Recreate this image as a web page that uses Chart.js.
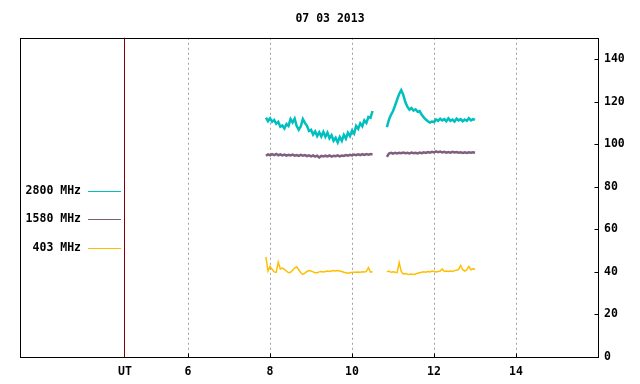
<!DOCTYPE html>
<html>
<head>
<meta charset="utf-8">
<script src="https://cdn.jsdelivr.net/npm/chart.js@4"></script>
<style>
  html, body { margin: 0; padding: 0; background: #fff; }
</style>
</head>
<body>
<canvas id="rsChart" width="640" height="384"></canvas>
<script>
/* ===== Radio flux, 07 03 2013 ===== */

const chartTitle = '07 03 2013';
const UT_AT = 4.46;                 // where the "UT" marker sits on the hour axis
const hourTicks = [6, 8, 10, 12, 14];
const fluxTicks = [0, 20, 40, 60, 80, 100, 120, 140];

const bandLabels = ['2800 MHz', '1580 MHz', '403 MHz'];
const bandColors = ['#00bfbf', '#7f5f7f', '#ffbf00'];
const bandWidths = [2.5, 2.5, 1.5];

// first run of samples (UT hours)
const hours1 = [7.90, 7.95, 8.00, 8.05, 8.10, 8.15, 8.20, 8.25, 8.30, 8.35,
  8.40, 8.45, 8.50, 8.55, 8.60, 8.65, 8.70, 8.75, 8.80, 8.85,
  8.90, 8.95, 9.00, 9.05, 9.10, 9.15, 9.20, 9.25, 9.30, 9.35,
  9.40, 9.45, 9.50, 9.55, 9.60, 9.65, 9.70, 9.75, 9.80, 9.85,
  9.90, 9.95, 10.00, 10.05, 10.10, 10.15, 10.20, 10.25, 10.30, 10.35,
  10.40, 10.45, 10.50];
// second run, after the data gap
const hours2 = [10.85, 10.90, 10.95, 11.00, 11.05, 11.10, 11.15, 11.20, 11.25, 11.30,
  11.35, 11.40, 11.45, 11.50, 11.55, 11.60, 11.65, 11.70, 11.75, 11.80,
  11.85, 11.90, 11.95, 12.00, 12.05, 12.10, 12.15, 12.20, 12.25, 12.30,
  12.35, 12.40, 12.45, 12.50, 12.55, 12.60, 12.65, 12.70, 12.75, 12.80,
  12.85, 12.90, 12.95, 13.00];
const gapAt = 10.70;

const f2800a = [112.5, 110.8, 112.2, 110.5, 111.4, 109.6, 110.5, 108.2, 108.8, 107.4,
  109.5, 108.6, 111.8, 110.2, 112.0, 108.5, 106.8, 108.4, 111.8, 110.0,
  108.6, 106.2, 106.8, 104.5, 106.0, 103.8, 105.6, 103.6, 105.8, 103.5,
  105.4, 102.8, 104.2, 101.6, 103.0, 100.8, 103.4, 101.6, 104.4, 102.6,
  105.4, 103.8, 106.4, 105.0, 108.6, 107.2, 109.8, 108.4, 111.2, 110.0,
  112.8, 112.4, 115.6];
const f2800b = [108.0, 111.5, 113.8, 115.6, 118.2, 121.0, 123.6, 125.4, 123.2, 119.8,
  117.6, 116.2, 117.0, 115.8, 116.4, 115.2, 115.6, 113.8, 112.6, 111.6,
  110.8, 110.2, 110.6, 110.4, 111.6, 111.0, 112.0, 111.2, 111.8, 110.8,
  112.2, 111.0, 111.6, 110.6, 112.0, 111.2, 111.8, 110.8, 111.6, 111.0,
  112.2, 111.2, 111.8, 111.4];

const f1580a = [94.6, 95.2, 94.8, 95.3, 94.9, 95.4, 94.8, 95.2, 94.7, 95.1,
  94.6, 95.0, 94.7, 95.1, 94.6, 94.9, 94.5, 95.0, 94.6, 94.9,
  94.4, 94.8, 94.3, 94.7, 94.2, 94.6, 93.8, 94.5, 94.2, 94.6,
  94.3, 94.7, 94.2, 94.6, 94.4, 94.8, 94.3, 94.7, 94.5, 94.9,
  94.6, 95.0, 94.7, 95.1, 94.8, 95.2, 94.9, 95.3, 95.0, 95.4,
  95.1, 95.4, 95.2];
const f1580b = [94.0, 95.6, 95.9, 95.6, 96.0, 95.7, 96.0, 95.8, 96.1, 95.8,
  96.0, 95.7, 96.1, 95.8, 96.0, 95.7, 96.1, 95.8, 96.2, 95.9,
  96.3, 96.0, 96.4, 96.1, 96.6, 96.2, 96.5, 96.1, 96.4, 96.0,
  96.3, 96.0, 96.4, 96.1, 96.3, 96.0, 96.2, 95.9, 96.2, 95.9,
  96.2, 96.0, 96.2, 96.0];

const f403a = [47.0, 40.4, 42.6, 41.2, 40.0, 39.8, 44.6, 41.4, 41.8, 41.2,
  40.4, 39.6, 39.8, 40.8, 41.8, 42.4, 41.0, 39.6, 38.8, 39.4,
  40.2, 40.6, 40.4, 40.0, 39.6, 39.6, 40.0, 40.2, 40.0, 40.2,
  40.4, 40.2, 40.4, 40.6, 40.4, 40.6, 40.4, 40.2, 39.8, 39.6,
  39.4, 39.6, 39.8, 39.8, 39.8, 39.9, 39.8, 40.0, 39.9, 40.2,
  42.0, 39.9, 40.1];
const f403b = [40.0, 40.4, 39.8, 40.0, 39.8, 39.6, 44.4, 40.2, 39.0, 39.2,
  38.9, 38.8, 39.0, 38.8, 39.0, 39.4, 39.6, 39.8, 40.0, 39.8,
  40.2, 40.0, 40.4, 40.2, 40.0, 40.2, 40.4, 41.4, 40.2, 40.4,
  40.2, 40.4, 40.2, 40.6, 40.8, 41.2, 43.0, 41.0, 40.4, 41.0,
  42.6, 41.0, 41.4, 41.2];

const FONT = { family: "'DejaVu Sans Mono', 'Liberation Mono', monospace", size: 11.5, weight: 'bold' };

function toPoints(a, b) {
  return hours1.map((h, i) => ({ x: h, y: a[i] }))
    .concat([{ x: gapAt, y: null }])
    .concat(hours2.map((h, i) => ({ x: h, y: b[i] })));
}

// box, inward tick marks and the left-side legend
const framePlugin = {
  id: 'frame',
  afterDraw(chart) {
    const { ctx, chartArea: a, scales } = chart;
    const L = Math.round(a.left) + 0.5, R = Math.round(a.right) + 0.5;
    const T = Math.round(a.top) + 0.5, B = Math.round(a.bottom) + 0.5;
    ctx.save();
    ctx.strokeStyle = '#000';
    ctx.lineWidth = 1;
    ctx.strokeRect(L, T, R - L, B - T);

    ctx.beginPath();
    scales.y.ticks.forEach(t => {
      const py = Math.round(scales.y.getPixelForValue(t.value)) + 0.5;
      ctx.moveTo(R - 4, py); ctx.lineTo(R, py);
    });
    scales.x.ticks.forEach(t => {
      if (t.value === UT_AT) return;
      const px = Math.round(scales.x.getPixelForValue(t.value)) + 0.5;
      ctx.moveTo(px, B - 4); ctx.lineTo(px, B);
    });
    ctx.stroke();

    ctx.font = `${FONT.weight} ${FONT.size}px ${FONT.family}`;
    ctx.textAlign = 'right';
    ctx.textBaseline = 'middle';
    ctx.fillStyle = '#000';
    const rows = [191, 219, 248];
    chart.data.datasets.forEach((ds, i) => {
      ctx.fillText(ds.label, 81, rows[i] + 0.5);
      ctx.strokeStyle = ds.borderColor;
      ctx.lineWidth = 1;
      ctx.beginPath();
      ctx.moveTo(88, rows[i] + 0.5);
      ctx.lineTo(121, rows[i] + 0.5);
      ctx.stroke();
    });
    ctx.restore();
  }
};

new Chart(document.getElementById('rsChart'), {
  type: 'line',
  data: {
    datasets: bandLabels.map((label, i) => ({
      label: label,
      data: [toPoints(f2800a, f2800b), toPoints(f1580a, f1580b), toPoints(f403a, f403b)][i],
      borderColor: bandColors[i],
      borderWidth: bandWidths[i]
    }))
  },
  options: {
    responsive: false,
    animation: false,
    spanGaps: false,
    layout: { padding: { left: 20, top: 0, right: 0, bottom: 0 } },
    elements: {
      line: { tension: 0, borderJoinStyle: 'miter' },
      point: { radius: 0 }
    },
    plugins: {
      legend: { display: false },
      tooltip: { enabled: false },
      title: {
        display: true,
        text: chartTitle,
        color: '#000',
        font: FONT,
        padding: { top: 12, bottom: 12 }
      }
    },
    scales: {
      x: {
        type: 'linear',
        min: 1.9,
        max: 16,
        afterBuildTicks: s => { s.ticks = [UT_AT].concat(hourTicks).map(v => ({ value: v })); },
        afterFit: s => { s.height = 27; },
        ticks: {
          color: '#000',
          font: FONT,
          padding: 8,
          maxRotation: 0,
          autoSkip: false,
          callback: v => (v === UT_AT ? 'UT' : String(v))
        },
        grid: {
          drawTicks: false,
          lineWidth: 1,
          color: c => (c.tick && c.tick.value === UT_AT ? '#800000' : '#a0a0a0')
        },
        border: {
          display: false,
          dash: c => (c.tick && c.tick.value !== UT_AT ? [2, 3] : [])
        }
      },
      y: {
        position: 'right',
        min: 0,
        max: 150,
        afterBuildTicks: s => { s.ticks = fluxTicks.map(v => ({ value: v })); },
        afterFit: s => { s.width = 42; },
        ticks: { color: '#000', font: FONT, padding: 6 },
        grid: { display: false, drawTicks: false },
        border: { display: false }
      }
    }
  },
  plugins: [framePlugin]
});
</script>
</body>
</html>
